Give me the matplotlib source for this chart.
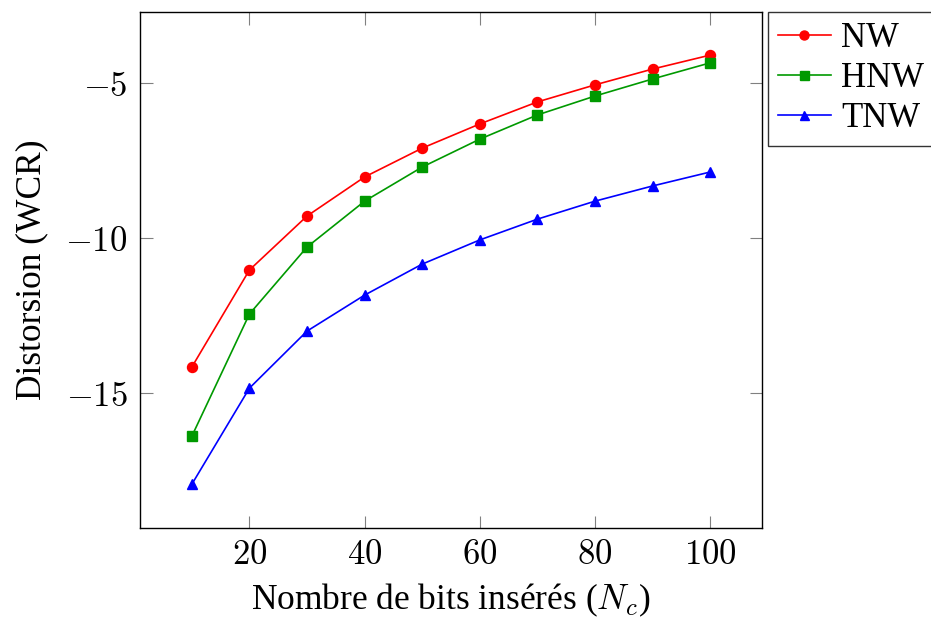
import matplotlib
matplotlib.use("Agg")
import matplotlib.pyplot as plt
from matplotlib.ticker import FuncFormatter

plt.rcParams['font.family'] = ['Liberation Serif', 'DejaVu Serif']
plt.rcParams['mathtext.fontset'] = 'cm'

x = [10, 20, 30, 40, 50, 60, 70, 80, 90, 100]
nw = [-14.16, -11.03, -9.29, -8.03, -7.10, -6.32, -5.61, -5.06, -4.55, -4.10]
hnw = [-16.39, -12.45, -10.29, -8.81, -7.71, -6.81, -6.03, -5.42, -4.87, -4.35]
tnw = [-17.94, -14.84, -13.00, -11.84, -10.84, -10.06, -9.39, -8.81, -8.32, -7.87]
labels = ["NW", "HNW", "TNW"]
xticks = [20, 40, 60, 80, 100]
yticks = [-15, -10, -5]

fig = plt.figure(figsize=(9.31, 6.19), dpi=100)
ax = fig.add_axes([140/931, 1-528/619, (762-140)/931, (528-12)/619])

ms = 7.2
ax.plot(x, nw, color='red', marker='o', markersize=ms, lw=1.2, label=labels[0])
ax.plot(x, hnw, color='#009900', marker='s', markersize=ms, lw=1.2, label=labels[1])
ax.plot(x, tnw, color='blue', marker='^', markersize=ms, lw=1.2, label=labels[2])

ax.set_xlim(1, 109)
ax.set_ylim(-19.35, -2.71)
ax.set_xticks(xticks)
ax.set_yticks(yticks)
ax.xaxis.set_major_formatter(FuncFormatter(lambda v, p: r'$%d$' % v))
ax.yaxis.set_major_formatter(FuncFormatter(lambda v, p: r'$%d$' % v))
ax.tick_params(direction='in', length=9, width=0.8, color='#808080',
               top=True, right=True, labelsize=25)
ax.tick_params(axis='x', pad=8)
ax.tick_params(axis='y', pad=9)
for s in ax.spines.values():
    s.set_linewidth(1.0)

ax.set_xlabel(r'Nombre de bits insérés ($N_c$)', fontsize=25.5, labelpad=7)
ax.set_ylabel('Distorsion (WCR)', fontsize=25.5, labelpad=12)

leg = ax.legend(loc='upper left', bbox_to_anchor=(768/931, 1-12/619),
                bbox_transform=fig.transFigure, borderaxespad=0,
                fontsize=25, frameon=True, fancybox=False, edgecolor='black',
                handlelength=1.5, borderpad=0.3, labelspacing=0.2,
                handletextpad=0.3, markerscale=0.9)
leg.get_frame().set_linewidth(1.0)

fig.savefig('out.png', dpi=100)
